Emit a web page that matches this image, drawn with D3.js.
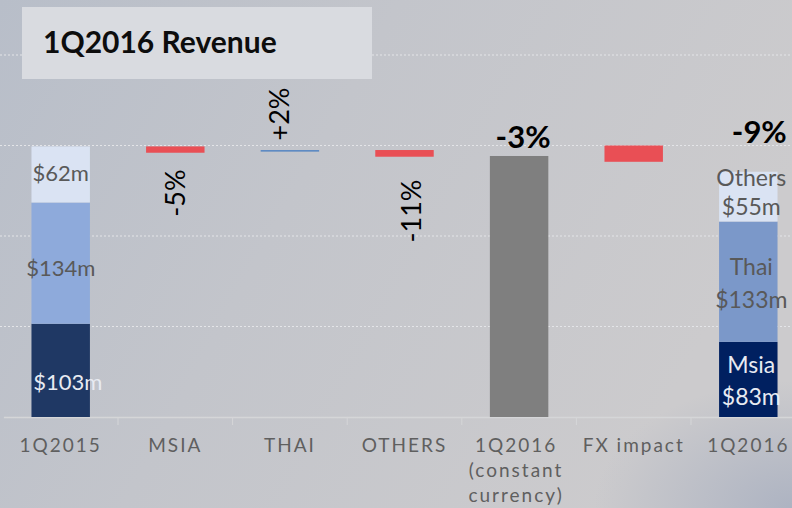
<!DOCTYPE html>
<html><head><meta charset="utf-8">
<script src="https://cdn.jsdelivr.net/npm/d3@7/dist/d3.min.js"></script>
<style>html,body{margin:0;padding:0;overflow:hidden;background:#c4c6cb}</style>
</head><body>
<svg id="c" width="792" height="508"></svg>
<script>
// ---- data ----
const categories = ["1Q2015","MSIA","THAI","OTHERS","1Q2016\n(constant\ncurrency)","FX impact","1Q2016 "];
// stacked totals (first and last bars)
const msiaValues   = [103, null, null, null, null, null, 83];
const thaiValues   = [134, null, null, null, null, null, 133];
const othersValues = [62,  null, null, null, null, null, 55];
const msiaLabels   = ["$103m", "", "", "", "", "", "Msia\n$83m"];
const thaiLabels   = ["$134m", "", "", "", "", "", "Thai\n$133m"];
const othersLabels = ["$62m",  "", "", "", "", "", "Others\n$55m"];
// floating / waterfall bars [low, high]
const floatLow  = [null, 292, 293.2, 287.6, 0, 282, null];
const floatHigh = [null, 299, 295, 295, 288.4, 300, null];
const floatKind = [null, "down", "up", "down", "total", "down", null];
const changeLabels = ["", "-5%", "+2%", "-11%", "-3%", "", "-9%"];
const gridValues = [100, 200, 300, 400];
const title = "1Q2016 Revenue";

// ---- drawing ----
const W = 792, H = 508;
const svg = d3.select("#c");
const defs = svg.append("defs");
const lg = defs.append("linearGradient").attr("id","bg").attr("x1","0").attr("y1","0").attr("x2","1").attr("y2","0.35");
lg.append("stop").attr("offset","0").attr("stop-color","#b8bec9");
lg.append("stop").attr("offset","0.45").attr("stop-color","#c3c5cb");
lg.append("stop").attr("offset","1").attr("stop-color","#cccbcd");
const rg = defs.append("radialGradient").attr("id","corner").attr("cx","1").attr("cy","1").attr("r","0.25");
rg.append("stop").attr("offset","0").attr("stop-color","#a0a9bd").attr("stop-opacity",0.7);
rg.append("stop").attr("offset","1").attr("stop-color","#a0a9bd").attr("stop-opacity",0);
svg.append("rect").attr("width",W).attr("height",H).attr("fill","url(#bg)");
svg.append("rect").attr("width",W).attr("height",H).attr("fill","url(#corner)");

const x = d3.scaleBand().domain(categories).range([3.4, 805.6]).paddingInner(0.49).paddingOuter(0.245);
const y = d3.scaleLinear().domain([0, 400]).range([417, 55]);
const bw = x.bandwidth();
const cx = c => x(c) + bw/2;

// grid
svg.append("g").selectAll("line").data(gridValues).join("line")
  .attr("x1",0).attr("x2",W).attr("y1",d=>y(d)).attr("y2",d=>y(d))
  .attr("stroke","#e4e5e8").attr("stroke-width",1).attr("stroke-dasharray","2,2");

// axis
const axis = d3.axisBottom(x).tickSize(0).tickFormat("");
const ag = svg.append("g").attr("transform",`translate(0,${y(0)})`).call(axis);
ag.select(".domain").attr("stroke","#d5d6d8").attr("stroke-width",1.5);
// category boundary ticks
const bounds = categories.slice(1).map(c => x(c) - x.step()*x.paddingInner()/2);
svg.append("g").selectAll("line").data(bounds).join("line")
  .attr("x1",d=>d).attr("x2",d=>d).attr("y1",y(0)).attr("y2",y(0)+8)
  .attr("stroke","#d5d6d8").attr("stroke-width",1);

// stacked bars
const segColors = {
  first: ["#1f3864","#8eaadb","#dae3f3"],
  last:  ["#002060","#7b98c9","#dae3f3"]
};
const stackSeries = [msiaValues, thaiValues, othersValues];
const stackLabels = [msiaLabels, thaiLabels, othersLabels];
const labelColors = ["#e8ebf2","#595959","#595959"];
const sg = svg.append("g");
categories.forEach((c,i) => {
  if (msiaValues[i] == null) return;
  let base = 0;
  const cols = i === 0 ? segColors.first : segColors.last;
  stackSeries.forEach((s,k) => {
    const v = s[i];
    sg.append("rect").attr("x",x(c)).attr("width",bw)
      .attr("y",y(base+v)).attr("height",y(base)-y(base+v)).attr("fill",cols[k]);
    base += v;
  });
});

// floating bars
const fg = svg.append("g");
categories.forEach((c,i) => {
  if (floatLow[i] == null) return;
  const k = floatKind[i];
  const col = k === "down" ? "#e94f55" : k === "up" ? "#5d8ac3" : "#7f7f7f";
  fg.append("rect").attr("x",x(c)).attr("width",bw)
    .attr("y",y(floatHigh[i])).attr("height",Math.max(1.5,y(floatLow[i])-y(floatHigh[i]))).attr("fill",col);
});

// stack labels
const font = "Lato, 'Open Sans', sans-serif";
const tg = svg.append("g").attr("font-family",font);
// first bar
const firstOffsets = [{dx:7, y:382},{dx:0,y:268},{dx:0,y:173}];
stackLabels.forEach((arr,k) => {
  const t = arr[0];
  tg.append("text").attr("x",cx(categories[0])+firstOffsets[k].dx).attr("y",firstOffsets[k].y)
    .attr("dy","0.35em").attr("text-anchor","middle").attr("font-size",22)
    .attr("fill",labelColors[k]).text(t);
});
// last bar
const lastPos = [[365,397],[267,300],[178,207]];
stackLabels.forEach((arr,k) => {
  const lines = arr[6].split("\n");
  lines.forEach((ln,j) => {
    tg.append("text").attr("x",cx(categories[6])+3).attr("y",lastPos[k][j])
      .attr("dy","0.35em").attr("text-anchor","middle").attr("font-size",23)
      .attr("fill",labelColors[k]).text(ln);
  });
});

// change labels (rotated)
const rotPos = {1:{dx:0,y:193}, 2:{dx:-10,y:114}, 3:{dx:7,y:211}};
[1,2,3].forEach(i => {
  const p = rotPos[i];
  tg.append("text").attr("transform",`translate(${cx(categories[i])+p.dx},${p.y}) rotate(-90)`)
    .attr("dy","0.35em").attr("text-anchor","middle").attr("font-size",27).attr("fill","#000")
    .text(changeLabels[i]);
});
tg.append("text").attr("x",cx(categories[4])+4).attr("y",148).attr("text-anchor","middle")
  .attr("font-size",31).attr("font-weight","bold").attr("fill","#000").text(changeLabels[4]);
tg.append("text").attr("x",cx(categories[6])+11).attr("y",143).attr("text-anchor","middle")
  .attr("font-size",31).attr("font-weight","bold").attr("fill","#000").text(changeLabels[6]);

// category labels
const cg = svg.append("g").attr("font-family",font).attr("font-size",19).attr("fill","#5f5f5f")
  .attr("letter-spacing","2px");
categories.forEach((c,i) => {
  const lines = c.trim().split("\n");
  const t = cg.append("text").attr("text-anchor","middle");
  lines.forEach((ln,j) => {
    t.append("tspan").attr("x",cx(c)+ (i===4?-3:0)).attr("y",452 + j*25).text(ln);
  });
});

// title
svg.append("rect").attr("x",22).attr("y",7).attr("width",350).attr("height",72).attr("fill","#d9dbe0");
svg.append("text").attr("x",43).attr("y",53).attr("font-family",font).attr("font-weight","bold")
  .attr("font-size",30).attr("fill","#0d0d0d").text(title);
</script>
</body></html>
